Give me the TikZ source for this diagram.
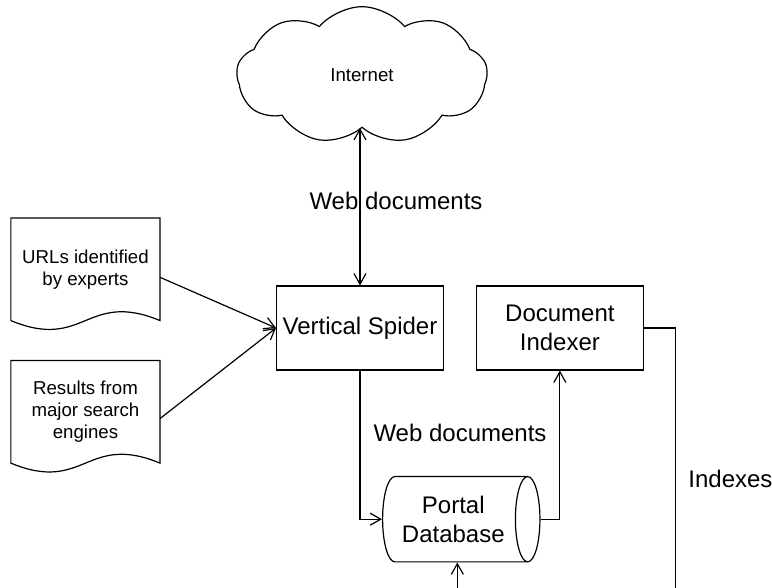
\documentclass[tikz,border=0pt]{standalone}
\usepackage{fontspec}
\setmainfont{Liberation Sans}
\usetikzlibrary{positioning,shapes.geometric,shapes.symbols,arrows.meta}

\newcommand{\bigtext}{\fontsize{18}{21.6}\selectfont}
\newcommand{\smalltext}{\fontsize{14}{16.5}\selectfont}

\begin{document}
\begin{tikzpicture}[node distance=24pt, line width=0.9pt,
    >={Straight Barb[length=8pt, width=9pt]},
    process/.style={draw, minimum width=125pt, minimum height=63pt, align=center, font=\bigtext},
    doc/.style={minimum width=111pt, minimum height=76pt, align=center, font=\smalltext},
    store/.style={draw, cylinder, shape aspect=0.5, inner sep=1pt, minimum width=64pt, minimum height=118pt, align=center, font=\bigtext},
    net/.style={draw, cloud, cloud puffs=9, cloud puff arc=100, minimum width=188pt, minimum height=103pt, font=\smalltext},
    lbl/.style={font=\bigtext, inner sep=0pt}]

    \useasboundingbox (-270pt,-195pt) rectangle (309pt,246pt);

    \node[process] (spider) {Vertical Spider};
    \node[process, right=of spider] (indexer) {Document\\Indexer};
    \node[net, above=118pt of spider, xshift=1.5pt] (internet) {Internet};
    \node[doc, left=87pt of spider, yshift=44pt] (urls) {URLs identified\\by experts};
    \node[doc, below=30pt of urls] (results) {Results from\\major search\\engines};
    \node[store, below=79pt of spider, xshift=70pt] (portal) {Portal\\Database};

    \foreach \d in {urls,results}
        \draw (\d.south west) -- (\d.north west) -- (\d.north east) -- (\d.south east)
            .. controls +(-55.5pt,23pt) and +(55.5pt,-23pt) .. (\d.south west) -- cycle;

    \draw[->] ([yshift=-6pt]urls.east) -- (spider.west);
    \draw[->] ([yshift=-5pt]results.east) -- (spider.west);

    \draw[<->] (internet.south -| spider.north) -- node[lbl, pos=0.46, xshift=27pt] {Web documents} (spider.north);

    \draw[->] (spider.south) |- (portal.west);
    \draw[->] (portal.east) -| (indexer.south);
    \node[lbl, above=25pt of portal, xshift=5pt] (webdocs) {Web documents};

    \coordinate[below=21pt of portal, xshift=3pt] (feed);
    \draw[->] (feed) -- (feed |- portal.south);

    \path (indexer.east) ++(24pt,0) coordinate (bend);
    \coordinate (idxend) at (bend |- feed);
    \draw (indexer.east) -- (bend) -- node[lbl, pos=0.575, right=9pt] {Indexes} (idxend);

\end{tikzpicture}
\end{document}
